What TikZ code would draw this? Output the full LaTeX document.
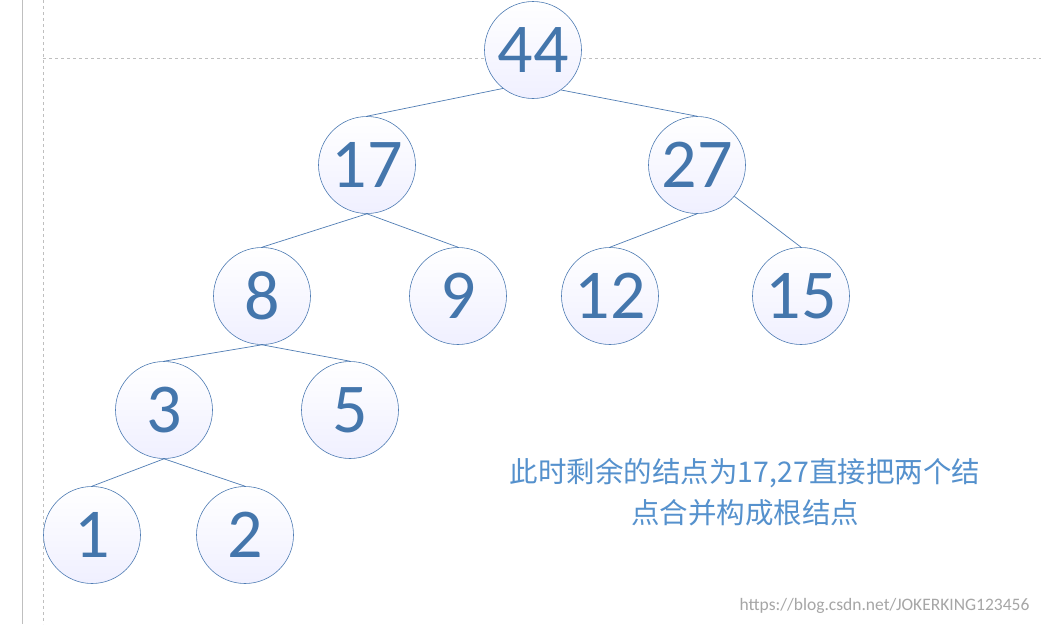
\documentclass[tikz,border=0pt]{standalone}
\usepackage{fontspec}
\setmainfont{Carlito}
\newfontfamily\cjk{Noto Sans CJK SC}
\usetikzlibrary{shadings}
\definecolor{numc}{RGB}{68,118,172}
\definecolor{edgec}{RGB}{80,125,180}
\definecolor{txtc}{RGB}{85,145,205}
\tikzset{
 tn/.style={circle,draw=edgec,line width=0.6pt,minimum size=97pt,inner sep=0pt,
   top color=white,bottom color=blue!6!white,text=numc,font=\fontsize{70}{70}\selectfont},
 ed/.style={draw=edgec,line width=0.7pt}
}
\begin{document}
\begin{tikzpicture}[x=1pt,y=-1pt]
\useasboundingbox[fill=white] (0,0) rectangle (1041,624);
\draw[gray!50,line width=1pt] (22,0) -- (22,624);
\draw[gray!50,dashed] (43,0) -- (43,624);
\draw[gray!50,dashed] (43,58) -- (1041,58);
\node[tn] (n44) at (533,50) {44};
\node[tn] (n17) at (367,165) {17};
\node[tn] (n27) at (697,165) {27};
\node[tn] (n8) at (262,296) {8};
\node[tn] (n9) at (458,296) {9};
\node[tn] (n12) at (610,296) {12};
\node[tn] (n15) at (801,296) {15};
\node[tn] (n3) at (164,410) {3};
\node[tn] (n5) at (350,410) {5};
\node[tn] (n1) at (92,535) {1};
\node[tn] (n2) at (245,535) {2};
\draw[ed] (n44.232) -- (n17.north);
\draw[ed] (n44.305) -- (n27.north);
\draw[ed] (n17.south) -- (n8.north);
\draw[ed] (n17.south) -- (n9.north);
\draw[ed] (n27.south) -- (n12.north);
\draw[ed] (n27.320) -- (n15.north);
\draw[ed] (n8.south) -- (n3.north);
\draw[ed] (n8.south) -- (n5.north);
\draw[ed] (n3.south) -- (n1.north);
\draw[ed] (n3.south) -- (n2.north);
\node[text=txtc,align=center,font=\cjk\fontsize{28.5}{41}\selectfont] (t) at (745,492) {此时剩余的结点为17,27直接把两个结\\点合并构成根结点};
\node[text=gray!70,font=\fontsize{17.5}{17.5}\selectfont,anchor=east] (w) at (1033,606) {https://blog.csdn.net/JOKERKING123456};
\end{tikzpicture}
\end{document}
